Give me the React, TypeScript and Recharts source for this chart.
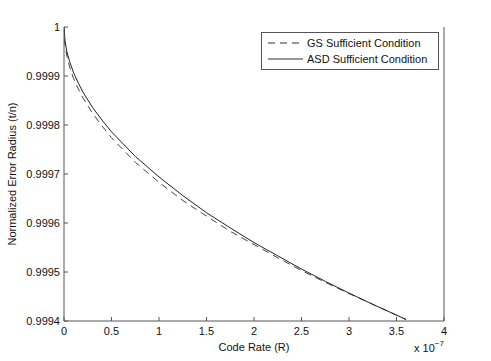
import React from 'react';
import { LineChart, Line, XAxis, YAxis, Legend } from 'recharts';

// code rate (x 1e-7)
const rates = [0, 0.01, 0.03, 0.06, 0.1, 0.15, 0.2, 0.3, 0.4, 0.5, 0.75, 1.0, 1.25, 1.5, 1.75, 2.0, 2.25, 2.5, 2.75, 3.0, 3.25, 3.5, 3.6];
const gsValues = [1.0, 0.999964, 0.999941, 0.999918, 0.999895, 0.999874, 0.999855, 0.999824, 0.999798, 0.999774, 0.999724, 0.999683, 0.999646, 0.999614, 0.999583, 0.999556, 0.999529, 0.999503, 0.999479, 0.999456, 0.999434, 0.999412, 0.999403];
const asdValues = [1.0, 0.999972, 0.99995, 0.999929, 0.999907, 0.999886, 0.999867, 0.999836, 0.99981, 0.999786, 0.999736, 0.999694, 0.999656, 0.999621, 0.99959, 0.99956, 0.999533, 0.999506, 0.999481, 0.999457, 0.999434, 0.999412, 0.999403];
const xTicks = [0, 0.5, 1, 1.5, 2, 2.5, 3, 3.5, 4];
const yTicks = [0.9994, 0.9995, 0.9996, 0.9997, 0.9998, 0.9999, 1];

const data = rates.map((r, i) => ({ rate: r, gs: gsValues[i], asd: asdValues[i] }));

const W = 491;
const H = 361;
const TOP = 27;
const BOTTOM = 321;
const LEFT = 64;
const RIGHT = 444;
const FONT = '"Liberation Sans", Arial, Helvetica, sans-serif';
const AXIS = '#555';

const fmt = (v: number) => String(Number(v.toFixed(4)));

const BottomTick = (p: any) => (
  <g>
    <line x1={p.x} x2={p.x} y1={BOTTOM} y2={BOTTOM - 4} stroke={AXIS} />
    <text x={p.x} y={BOTTOM + 14} textAnchor="middle" fontSize={11} fontFamily={FONT} fill="#111">
      {fmt(p.payload.value)}
    </text>
  </g>
);

const TopTick = (p: any) => (
  <line x1={p.x} x2={p.x} y1={TOP} y2={TOP + 4} stroke={AXIS} />
);

const LeftTick = (p: any) => (
  <g>
    <line x1={LEFT} x2={LEFT + 4} y1={p.y} y2={p.y} stroke={AXIS} />
    <text x={LEFT - 4} y={p.y + 4} textAnchor="end" fontSize={11} fontFamily={FONT} fill="#111">
      {fmt(p.payload.value)}
    </text>
  </g>
);

const RightTick = (p: any) => (
  <line x1={RIGHT} x2={RIGHT - 4} y1={p.y} y2={p.y} stroke={AXIS} />
);

const renderLegend = () => (
  <div style={{ border: `1px solid ${AXIS}`, background: '#fff', width: 176, height: 36, fontFamily: FONT, fontSize: 11, color: '#111', boxSizing: 'content-box' }}>
    {[
      { name: 'GS Sufficient Condition', dash: '7 5' },
      { name: 'ASD Sufficient Condition', dash: undefined },
    ].map((it, i) => (
      <div key={i} style={{ display: 'flex', alignItems: 'center', height: 16, marginTop: i === 0 ? 2 : 0 }}>
        <svg width={45} height={16}>
          <line x1={6} x2={41} y1={8} y2={8} stroke="#333" strokeDasharray={it.dash} />
        </svg>
        <span>{it.name}</span>
      </div>
    ))}
  </div>
);

export default function App() {
  return (
    <div style={{ position: 'absolute', left: 0, top: 0, width: W, height: H, background: '#fff' }}>
      <LineChart width={W} height={H} data={data} margin={{ top: TOP, right: 0, left: 0, bottom: 0 }}>
        <XAxis dataKey="rate" type="number" domain={[0, 4]} ticks={xTicks} allowDataOverflow
          height={H - BOTTOM} stroke={AXIS} tickLine={false} tickSize={0} tick={<BottomTick />} />
        <XAxis xAxisId="top" orientation="top" dataKey="rate" type="number" domain={[0, 4]} ticks={xTicks}
          height={0} stroke={AXIS} tickLine={false} tickSize={0} tick={<TopTick />} />
        <YAxis type="number" domain={[0.9994, 1]} ticks={yTicks} allowDataOverflow width={LEFT}
          stroke={AXIS} tickLine={false} tickSize={0} tick={<LeftTick />} />
        <YAxis yAxisId="right" orientation="right" type="number" domain={[0.9994, 1]} ticks={yTicks}
          width={W - RIGHT} stroke={AXIS} tickLine={false} tickSize={0} tick={<RightTick />} />
        <Legend content={renderLegend} layout="horizontal" align="center" verticalAlign="middle"
          wrapperStyle={{ position: 'absolute', left: 261, top: 32, width: 178, height: 38 }} />
        <Line dataKey="gs" name="GS Sufficient Condition" stroke="#444" strokeWidth={1} strokeDasharray="7 5" dot={false} isAnimationActive={false} />
        <Line dataKey="asd" name="ASD Sufficient Condition" stroke="#222" strokeWidth={1} dot={false} isAnimationActive={false} />
      </LineChart>
      <svg width={W} height={H} style={{ position: 'absolute', left: 0, top: 0, pointerEvents: 'none' }}>
        <text x={(LEFT + RIGHT) / 2} y={351} textAnchor="middle" fontSize={11} fontFamily={FONT} fill="#111">Code Rate (R)</text>
        <text x={13} y={(TOP + BOTTOM) / 2} textAnchor="middle" fontSize={11} fontFamily={FONT} fill="#111"
          transform={`rotate(-90 13 ${(TOP + BOTTOM) / 2})`} dominantBaseline="middle">Normalized Error Radius (t/n)</text>
        <text x={414} y={352} fontSize={11} fontFamily={FONT} fill="#111">
          x 10<tspan dy={-6} fontSize={8}>−7</tspan>
        </text>
      </svg>
    </div>
  );
}
